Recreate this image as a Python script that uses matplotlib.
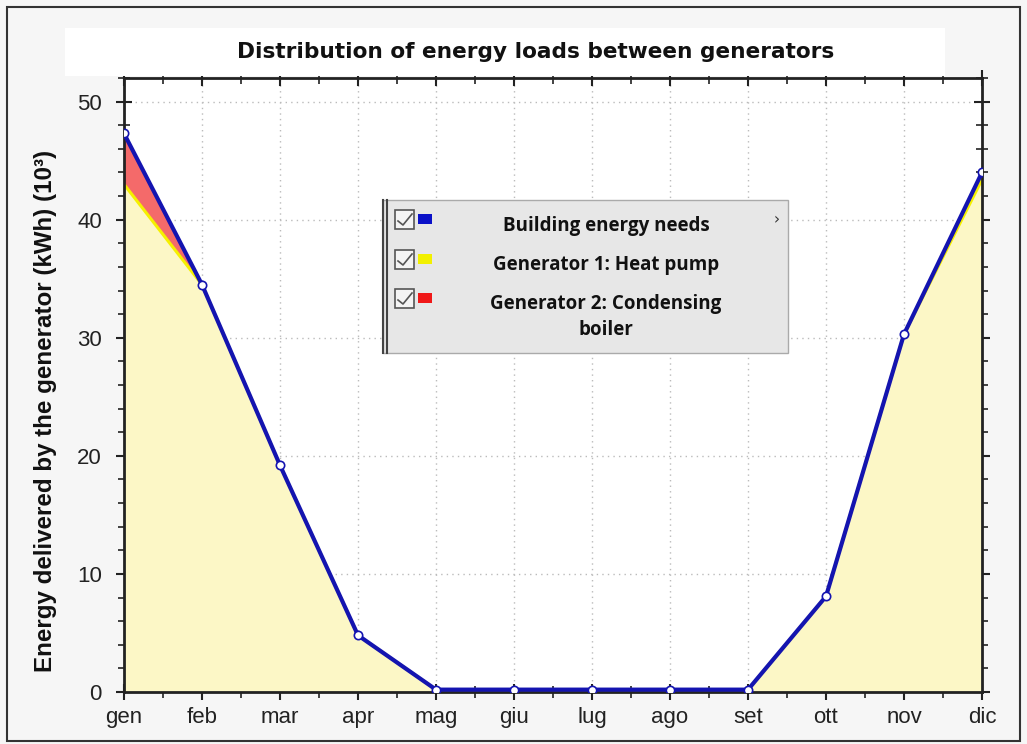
import matplotlib.pyplot as plt
from matplotlib.patches import Rectangle
from matplotlib.ticker import MultipleLocator, FixedLocator
from matplotlib.lines import Line2D

# dati (kWh x 10^3)
mesi = ['gen', 'feb', 'mar', 'apr', 'mag', 'giu', 'lug', 'ago', 'set', 'ott', 'nov', 'dic']
fabbisogno = [47.3, 34.5, 19.2, 4.8, 0.2, 0.2, 0.2, 0.2, 0.2, 8.1, 30.3, 44.0]
pompa_calore = [43.0, 34.5, 19.2, 4.8, 0.2, 0.2, 0.2, 0.2, 0.2, 8.1, 30.3, 43.4]
caldaia = [4.3, 0.0, 0.0, 0.0, 0.0, 0.0, 0.0, 0.0, 0.0, 0.0, 0.0, 0.0]

voci_legenda = ['Building energy needs', 'Generator 1: Heat pump', 'Generator 2: Condensing\nboiler']
colori_legenda = ['#0a10c8', '#f2f000', '#f01818']

W, H = 1027, 744
fig = plt.figure(figsize=(W / 100, H / 100), dpi=100)
fig.patch.set_facecolor('#f6f6f6')

# cornice esterna
fig.patches.append(Rectangle((7 / W, 3 / H), 1013 / W, 734 / H, transform=fig.transFigure,
                             fill=False, edgecolor='#333333', linewidth=1.5))
# fascia bianca del titolo
fig.patches.append(Rectangle((65 / W, 1 - 76 / H), 880 / W, 48 / H, transform=fig.transFigure,
                             facecolor='white', edgecolor='none'))
fig.text(536 / W, 1 - 52 / H, 'Distribution of energy loads between generators',
         ha='center', va='center', fontsize=15.6, fontweight='bold', family='DejaVu Sans',
         color='#111111')

ax = fig.add_axes([124 / W, 1 - 692 / H, (982 - 124) / W, (692 - 78) / H])
ax.set_facecolor('white')
x = list(range(len(mesi)))
totale_gen = [p + c for p, c in zip(pompa_calore, caldaia)]

ax.fill_between(x, 0, pompa_calore, color='#fcf7c6', linewidth=0, zorder=1)
ax.fill_between(x, pompa_calore, totale_gen, color='#f46a6a', linewidth=0, zorder=1)
ax.plot(x, pompa_calore, color='#f5f000', linewidth=2.2, zorder=2)
ax.plot(x, fabbisogno, color='#1414b0', linewidth=3, zorder=3,
        marker='o', markersize=6, markerfacecolor='white', markeredgecolor='#1414b0',
        markeredgewidth=1.2)

ax.set_xlim(0, 11)
ax.set_ylim(0, 52)
ax.set_xticks(x)
ax.set_xticklabels(mesi)
ax.xaxis.set_minor_locator(MultipleLocator(0.5))
ax.yaxis.set_major_locator(FixedLocator([0, 10, 20, 30, 40, 50]))
ax.yaxis.set_minor_locator(MultipleLocator(2))
ax.grid(True, which='major', linestyle=(0, (1, 3)), color='#bbbbbb', linewidth=1)
ax.set_axisbelow(True)

ax.tick_params(axis='both', which='major', direction='inout', length=12, width=1.5,
               labelsize=16, colors='#222222', top=True, right=True)
ax.tick_params(axis='both', which='minor', direction='inout', length=8, width=1.2,
               top=True, right=True, colors='#222222')
ax.tick_params(axis='x', which='major', pad=5)
ax.tick_params(axis='y', which='major', pad=10)
for lab in ax.get_xticklabels() + ax.get_yticklabels():
    lab.set_family('Liberation Sans')
    lab.set_color('#222222')
for s in ax.spines.values():
    s.set_linewidth(2)
    s.set_color('#222222')

fig.text(46 / W, 1 - 411 / H, 'Energy delivered by the generator (kWh) (10³)',
         rotation=90, ha='center', va='center', fontsize=17.4, fontweight='bold',
         family='Liberation Sans', color='#111111')

# legenda disegnata a mano come nell'originale
lx0, lx1, ly0, ly1 = 383, 788, 200, 353
fig.patches.append(Rectangle((lx0 / W, 1 - ly1 / H), (lx1 - lx0) / W, (ly1 - ly0) / H,
                             transform=fig.transFigure, facecolor='#e7e7e7',
                             edgecolor='#aaaaaa', linewidth=1, zorder=5))
for xx in (lx0, lx0 + 4):
    fig.add_artist(Line2D([xx / W, xx / W], [1 - ly1 / H, 1 - ly0 / H],
                          color='#444444', linewidth=1.5, zorder=6))
righe_y = [220, 260, 299]
testo_y = [226, 265, 317]
for voce, col, yy, ty in zip(voci_legenda, colori_legenda, righe_y, testo_y):
    fig.patches.append(Rectangle((395 / W, 1 - (yy + 9) / H), 19 / W, 19 / H,
                                 transform=fig.transFigure, facecolor='#f4f4f4',
                                 edgecolor='#555555', linewidth=1.2, zorder=6))
    fig.add_artist(Line2D([398 / W, 403 / W, 412 / W],
                          [1 - (yy + 1) / H, 1 - (yy + 5) / H, 1 - (yy - 6) / H],
                          color='#555555', linewidth=1.2, zorder=7))
    fig.patches.append(Rectangle((418 / W, 1 - (yy + 4) / H), 14 / W, 10 / H,
                                 transform=fig.transFigure, facecolor=col,
                                 edgecolor='none', zorder=6))
    fig.text(606 / W, 1 - ty / H, voce, ha='center', va='center', fontsize=13.5,
             fontweight='bold', family='Open Sans', color='#111111', zorder=7,
             linespacing=1.45)
fig.text(777 / W, 1 - 220 / H, '›', ha='center', va='center', fontsize=11,
         color='#333333', zorder=7)

fig.savefig('out.png', dpi=100, facecolor=fig.get_facecolor())
